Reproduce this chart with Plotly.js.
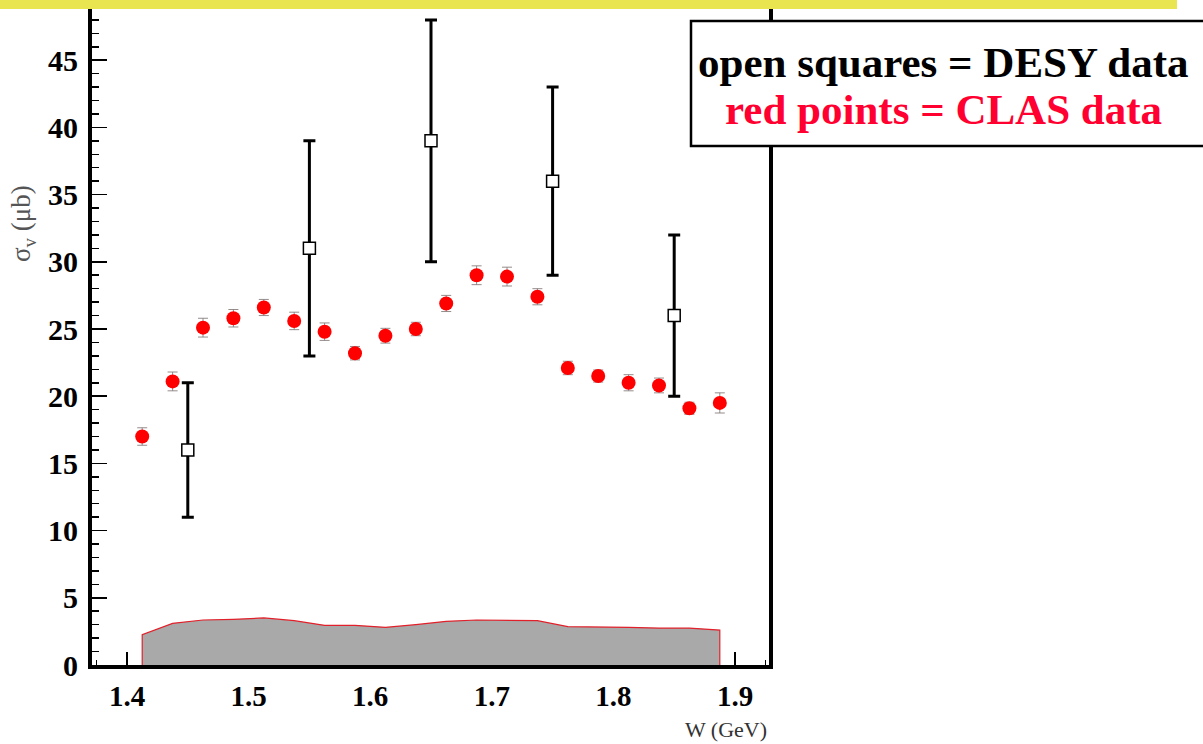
<!DOCTYPE html>
<html>
<head>
<meta charset="utf-8">
<script src="https://cdn.plot.ly/plotly-3.0.1.min.js"></script>
<style>
  html, body { margin: 0; padding: 0; background: #ffffff; }
  #chart { width: 1203px; height: 744px; }
</style>
</head>
<body>
<div id="chart"></div>
<script>
// CLAS measurements: centre-of-mass energy W (GeV), cross section (μb), statistical error
const clasW = [1.4125, 1.4375, 1.4625, 1.4875, 1.5125, 1.5375, 1.5625, 1.5875, 1.6125, 1.6375,
               1.6625, 1.6875, 1.7125, 1.7375, 1.7625, 1.7875, 1.8125, 1.8375, 1.8625, 1.8875];
const clasSigma = [17.0, 21.1, 25.1, 25.8, 26.6, 25.6, 24.8, 23.2, 24.5, 25.0,
                   26.9, 29.0, 28.9, 27.4, 22.1, 21.5, 21.0, 20.8, 19.1, 19.5];
const clasErr = [0.65, 0.7, 0.7, 0.65, 0.6, 0.65, 0.65, 0.5, 0.55, 0.5,
                 0.6, 0.7, 0.7, 0.6, 0.5, 0.45, 0.6, 0.55, 0.45, 0.75];
// CLAS systematic uncertainty band
const clasSys = [2.25, 3.1, 3.35, 3.4, 3.5, 3.3, 2.95, 2.95, 2.8, 3.0,
                 3.25, 3.35, 3.35, 3.3, 2.85, 2.85, 2.8, 2.75, 2.75, 2.6];

// DESY measurements
const desyW = [1.45, 1.55, 1.65, 1.75, 1.85];
const desySigma = [16, 31, 39, 36, 26];
const desyErr = [5, 8, 9, 7, 6];

// Axis ticks
const xTickVals = [1.4, 1.5, 1.6, 1.7, 1.8, 1.9];
const xTickText = ['1.4', '1.5', '1.6', '1.7', '1.8', '1.9'];
const yTickVals = [0, 5, 10, 15, 20, 25, 30, 35, 40, 45];
const yTickText = ['0', '5', '10', '15', '20', '25', '30', '35', '40', '45'];

// Plot frame in pixels (used to place paper-referenced decorations)
const W = 1203, H = 744;
const frame = { left: 92, right: 769, top: 9, bottom: 665 };
const px2paperX = p => (p - frame.left) / (frame.right - frame.left);
const px2paperY = p => (frame.bottom - p) / (frame.bottom - frame.top);

const serif = 'Liberation Serif, Times New Roman, serif';

// band outline closed down to zero at both ends
const bandX = [clasW[0]].concat(clasW, [clasW[clasW.length - 1]]);
const bandY = [0].concat(clasSys, [0]);

const traces = [
  {
    x: bandX, y: bandY, type: 'scatter', mode: 'lines',
    fill: 'tozeroy', fillcolor: '#a9a9a9',
    line: { color: '#e0202a', width: 1.2, shape: 'linear' },
    hoverinfo: 'skip', showlegend: false
  },
  {
    x: clasW, y: clasSigma, type: 'scatter', mode: 'markers',
    marker: { symbol: 'circle', size: 14, color: '#ff0000' },
    error_y: { type: 'data', array: clasErr, visible: true,
               color: 'rgba(130,120,120,0.85)', thickness: 1, width: 5 },
    showlegend: false
  },
  {
    x: desyW, y: desySigma, type: 'scatter', mode: 'markers',
    marker: { symbol: 'square', size: 12, color: '#ffffff',
              line: { color: '#000000', width: 1.5 } },
    error_y: { type: 'data', array: desyErr, visible: true,
               color: '#000000', thickness: 3, width: 6 },
    showlegend: false
  }
];

const yPerPx = 1 / 13.44;
const layout = {
  width: W, height: H,
  paper_bgcolor: '#ffffff', plot_bgcolor: '#ffffff',
  margin: { l: frame.left, r: W - frame.right, t: frame.top, b: H - frame.bottom, pad: 0 },
  showlegend: false,
  xaxis: {
    range: [1.4 + (frame.left - 127) / 1216, 1.4 + (frame.right - 127) / 1216],
    tickmode: 'array', tickvals: xTickVals, ticktext: xTickText,
    ticks: 'inside', ticklen: 13, tickwidth: 1.5, tickcolor: '#000',
    minor: { dtick: 0.025, tick0: 1.4, ticks: 'inside', ticklen: 5, tickwidth: 1.5, tickcolor: '#000' },
    showline: true, linewidth: 4, linecolor: '#000', mirror: false,
    showgrid: false, zeroline: false, layer: 'below traces',
    ticklabelstandoff: 2,
    tickfont: { family: serif, size: 29, color: '#000', weight: 'bold' }
  },
  yaxis: {
    range: [0, (frame.bottom - frame.top) * yPerPx],
    tickmode: 'array', tickvals: yTickVals, ticktext: yTickText,
    ticks: 'inside', ticklen: 15, tickwidth: 1.5, tickcolor: '#000',
    minor: { dtick: 1, tick0: 0, ticks: 'inside', ticklen: 7, tickwidth: 1.5, tickcolor: '#000' },
    showline: true, linewidth: 4, linecolor: '#000', mirror: true,
    showgrid: false, zeroline: false, layer: 'below traces',
    ticklabelstandoff: 4,
    tickfont: { family: serif, size: 30, color: '#000', weight: 'bold' }
  },
  shapes: [
    // yellow strip along the top edge
    { type: 'rect', xref: 'paper', yref: 'paper', layer: 'above',
      x0: px2paperX(-2), x1: px2paperX(1177), y0: px2paperY(9), y1: px2paperY(-2),
      fillcolor: '#e9e550', line: { width: 0 } },
    // key box
    { type: 'rect', xref: 'paper', yref: 'paper', layer: 'above',
      x0: px2paperX(691), x1: px2paperX(1215), y0: px2paperY(146), y1: px2paperY(21),
      fillcolor: '#ffffff', line: { color: '#000000', width: 2.5 } }
  ],
  annotations: [
    { xref: 'paper', yref: 'paper', x: px2paperX(943), y: px2paperY(62),
      xanchor: 'center', yanchor: 'middle', showarrow: false,
      text: '<b>open squares = DESY data</b>',
      font: { family: serif, size: 43, color: '#000000' } },
    { xref: 'paper', yref: 'paper', x: px2paperX(943), y: px2paperY(110),
      xanchor: 'center', yanchor: 'middle', showarrow: false,
      text: '<b>red points = CLAS data</b>',
      font: { family: serif, size: 43, color: '#ff0030' } },
    { xref: 'paper', yref: 'paper', x: px2paperX(23), y: px2paperY(224),
      xanchor: 'center', yanchor: 'middle', showarrow: false, textangle: -90,
      text: 'σ<sub>v</sub> (μb)',
      font: { family: serif, size: 27, color: '#555555' } },
    { xref: 'paper', yref: 'paper', x: px2paperX(726), y: px2paperY(729),
      xanchor: 'center', yanchor: 'middle', showarrow: false,
      text: 'W (GeV)',
      font: { family: serif, size: 22, color: '#333333' } }
  ]
};

Plotly.newPlot('chart', traces, layout, { staticPlot: true, displayModeBar: false });
</script>
</body>
</html>
